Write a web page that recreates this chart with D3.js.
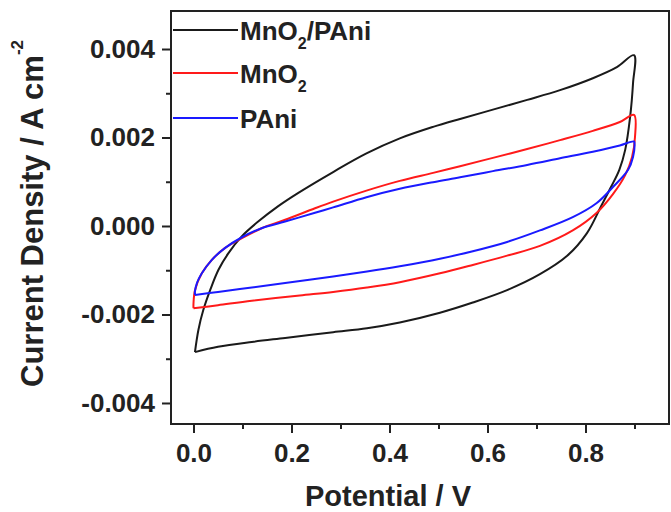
<!DOCTYPE html>
<html>
<head>
<meta charset="utf-8">
<script src="https://cdn.jsdelivr.net/npm/d3@7"></script>
<style>
  html, body { margin: 0; padding: 0; background: #fff; }
  svg { display: block; }
  text { font-family: "Liberation Sans", Arial, sans-serif; font-weight: bold; fill: #222; }
</style>
</head>
<body>
<svg id="chart" width="671" height="512"></svg>
<script>
// ---- Data (potential in V, current density in A cm^-2) ----
const seriesNames = ["MnO2/PAni", "MnO2", "PAni"];
const seriesColors = ["#1a1a1a", "#ff1a1a", "#1a1aff"];

const mnpaniV = [0.003,0.010,0.020,0.034,0.051,0.071,0.098,0.132,0.173,0.214,0.285,0.353,0.421,0.489,0.544,0.611,0.681,0.748,0.815,0.864,0.899,
                 0.897,0.891,0.881,0.869,0.852,0.831,0.803,0.762,0.707,0.640,0.570,0.503,0.421,0.354,0.285,0.187,0.119,0.050,0.003];
const mnpaniI = [-0.00285,-0.00235,-0.00190,-0.00145,-0.00099,-0.00062,-0.00024,0.00010,0.00045,0.00075,0.00122,0.00164,0.00198,0.00224,0.00242,0.00263,0.00285,0.00307,0.00334,0.00359,0.00386,
                 0.00323,0.00246,0.00172,0.00127,0.00088,0.00043,-0.00016,-0.00068,-0.00109,-0.00145,-0.00173,-0.00196,-0.00218,-0.00231,-0.00240,-0.00253,-0.00262,-0.00273,-0.00285];

const mno2V = [0.000,0.000,0.003,0.017,0.037,0.064,0.098,0.139,0.187,0.248,0.285,0.353,0.421,0.489,0.544,0.611,0.681,0.748,0.815,0.870,0.899,
               0.901,0.895,0.881,0.856,0.823,0.774,0.707,0.640,0.570,0.503,0.421,0.354,0.285,0.217,0.119,0.050,0.000];
const mno2I = [-0.00186,-0.00175,-0.00145,-0.00107,-0.00077,-0.00050,-0.00028,-0.00005,0.00014,0.00040,0.00055,0.00080,0.00102,0.00120,0.00135,0.00154,0.00174,0.00194,0.00215,0.00235,0.00251,
               0.00201,0.00156,0.00115,0.00072,0.00030,-0.00010,-0.00045,-0.00067,-0.00088,-0.00107,-0.00127,-0.00139,-0.00149,-0.00157,-0.00169,-0.00179,-0.00186];

const paniV = [0.003,0.003,0.007,0.017,0.037,0.064,0.098,0.139,0.187,0.248,0.285,0.353,0.421,0.489,0.544,0.611,0.681,0.748,0.815,0.870,0.899,
               0.900,0.897,0.887,0.856,0.823,0.774,0.707,0.640,0.570,0.503,0.421,0.354,0.285,0.187,0.119,0.050,0.003];
const paniI = [-0.00156,-0.00148,-0.00129,-0.00107,-0.00077,-0.00050,-0.00026,-0.00005,0.00010,0.00030,0.00042,0.00065,0.00084,0.00099,0.00110,0.00124,0.00138,0.00153,0.00168,0.00182,0.00191,
               0.00187,0.00156,0.00127,0.00088,0.00052,0.00020,-0.00010,-0.00036,-0.00057,-0.00074,-0.00091,-0.00103,-0.00114,-0.00129,-0.00139,-0.00149,-0.00156];

const xTicks = [0.0, 0.2, 0.4, 0.6, 0.8];
const xTickLabels = ["0.0", "0.2", "0.4", "0.6", "0.8"];
const xMinorTicks = [0.1, 0.3, 0.5, 0.7, 0.9];
const yTicks = [-0.004, -0.002, 0.000, 0.002, 0.004];
const yTickLabels = ["-0.004", "-0.002", "0.000", "0.002", "0.004"];
const yMinorTicks = [-0.003, -0.001, 0.001, 0.003];

const xTitle = "Potential / V";
const yTitle = "Current Density / A cm";
const yTitleSup = "-2";

// ---- Layout ----
const plot = { left: 171, top: 11, right: 669, bottom: 424 };
const svg = d3.select("#chart");

const x = d3.scaleLinear().domain([-0.0459, 0.9704]).range([plot.left, plot.right]);
const y = d3.scaleLinear().domain([-0.004475, 0.004859]).range([plot.bottom, plot.top]);

// ---- Curves ----
const series = [
  { v: mnpaniV, i: mnpaniI },
  { v: mno2V, i: mno2I },
  { v: paniV, i: paniI }
];
const line = d3.line()
  .x(d => x(d[0]))
  .y(d => y(d[1]))
  .curve(d3.curveCatmullRom.alpha(0.5));

svg.append("g").selectAll("path")
  .data(series)
  .join("path")
  .attr("d", s => line(s.v.map((v, k) => [v, s.i[k]])))
  .attr("fill", "none")
  .attr("stroke", (s, k) => seriesColors[k])
  .attr("stroke-width", 2)
  .attr("stroke-linejoin", "round");

// ---- Axes ----
function styleAxis(g) {
  g.select(".domain").remove();
  g.selectAll(".tick line").attr("stroke", "#222").attr("stroke-width", 2);
}
const xAxis = svg.append("g")
  .attr("transform", `translate(0,${plot.bottom})`)
  .call(d3.axisBottom(x).tickValues(xTicks).tickSize(9).tickPadding(11)
        .tickFormat((d, k) => xTickLabels[k]));
styleAxis(xAxis);
xAxis.selectAll("text").attr("font-size", 26).style("font-family", '"Liberation Sans", Arial, sans-serif').style("font-weight", "bold").attr("fill", "#222");

const xMinor = svg.append("g")
  .attr("transform", `translate(0,${plot.bottom})`)
  .call(d3.axisBottom(x).tickValues(xMinorTicks).tickSize(5).tickFormat(""));
styleAxis(xMinor);

const yAxis = svg.append("g")
  .attr("transform", `translate(${plot.left},0)`)
  .call(d3.axisLeft(y).tickValues(yTicks).tickSize(9).tickPadding(7)
        .tickFormat((d, k) => yTickLabels[k]));
styleAxis(yAxis);
yAxis.selectAll("text").attr("font-size", 26).style("font-family", '"Liberation Sans", Arial, sans-serif').style("font-weight", "bold").attr("fill", "#222");

const yMinor = svg.append("g")
  .attr("transform", `translate(${plot.left},0)`)
  .call(d3.axisLeft(y).tickValues(yMinorTicks).tickSize(5).tickFormat(""));
styleAxis(yMinor);

// ---- Frame ----
svg.append("rect")
  .attr("x", plot.left).attr("y", plot.top)
  .attr("width", plot.right - plot.left).attr("height", plot.bottom - plot.top)
  .attr("fill", "none").attr("stroke", "#222").attr("stroke-width", 2);

// ---- Titles ----
svg.append("text")
  .attr("x", 388)
  .attr("y", 506)
  .attr("text-anchor", "middle")
  .attr("font-size", 29)
  .text(xTitle);

const yt = svg.append("text")
  .attr("transform", "translate(43,387) rotate(-90)")
  .attr("text-anchor", "start")
  .attr("font-size", 31);
yt.append("tspan").text(yTitle);
yt.append("tspan").attr("font-size", 17).attr("dy", -20).text(yTitleSup);

// ---- Legend ----
const legendY = [30, 73, 118];
const lg = svg.append("g");
seriesNames.forEach((name, k) => {
  lg.append("line")
    .attr("x1", 173).attr("x2", 238)
    .attr("y1", legendY[k]).attr("y2", legendY[k])
    .attr("stroke", seriesColors[k]).attr("stroke-width", 2);
  const t = lg.append("text")
    .attr("x", 240).attr("y", legendY[k] + 9.5)
    .attr("font-size", 26);
  const m = name.match(/^(MnO)2(.*)$/);
  if (m) {
    t.append("tspan").text(m[1]);
    t.append("tspan").attr("font-size", 16).attr("dy", 9).text("2");
    if (m[2]) t.append("tspan").attr("dy", -9).text(m[2]);
  } else {
    t.text(name);
  }
});
</script>
</body>
</html>
